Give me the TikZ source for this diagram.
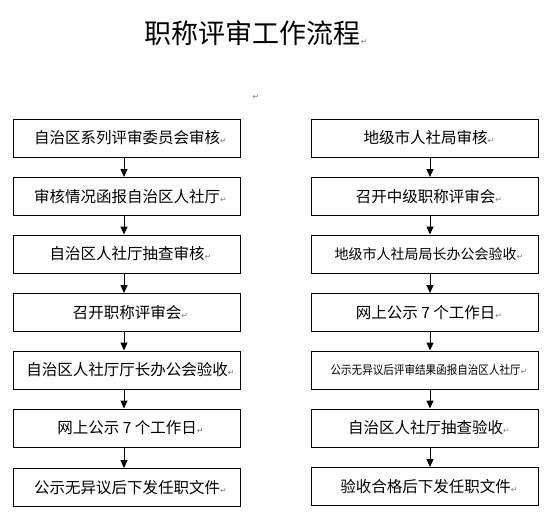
\documentclass[tikz,border=0pt]{standalone}
\usepackage{fontspec}
\usepackage{graphicx}
\newfontfamily\cjk{Noto Sans CJK SC}
\newfontfamily\djv{DejaVu Sans}
\usetikzlibrary{arrows.meta}
\newcommand{\pmark}{{\djv\fontsize{8}{8}\selectfont\textcolor{gray}{↵}}}
\tikzset{
  stepbox/.style={draw, line width=1pt, minimum width=227pt, minimum height=38pt,
    inner sep=0pt, font=\cjk\fontsize{15.5}{16}\selectfont},
  arr/.style={line width=1pt, -{Triangle[width=7pt,length=8pt]}},
}
\newcommand{\bx}[1]{\hspace*{8pt}\raisebox{-1.5pt}{#1\pmark}}
\begin{document}
\begin{tikzpicture}[x=1pt,y=1pt]
\useasboundingbox (0,0) rectangle (554,-527);
\fill[white] (0,0) rectangle (554,-527);
% title
\node[font=\cjk\fontsize{27}{28}\selectfont, inner sep=0pt] (title) at (252.5,-33.5) {职称评审工作流程};
\node[inner sep=0pt, anchor=south west] (tmark) at ([yshift=2pt]title.south east) {\pmark};
\node[inner sep=0pt] (lone) at (256,-97) {\pmark};
% left column
\node[stepbox] (L1) at (126.5,-138) {\bx{自治区系列评审委员会审核}};
\node[stepbox] (L2) at (126.5,-196.5) {\bx{审核情况函报自治区人社厅}};
\node[stepbox] (L3) at (126.5,-254) {\bx{自治区人社厅抽查审核}};
\node[stepbox] (L4) at (126.5,-312.5) {\bx{召开职称评审会}};
\node[stepbox] (L5) at (126.5,-370) {\bx{自治区人社厅厅长办公会验收}};
\node[stepbox] (L6) at (126.5,-428) {\bx{网上公示 7 个工作日}};
\node[stepbox] (L7) at (126.5,-487.5) {\bx{公示无异议后下发任职文件}};
% right column
\node[stepbox] (R1) at (425,-138) {\bx{地级市人社局审核}};
\node[stepbox] (R2) at (425,-196.5) {\bx{召开中级职称评审会}};
\node[stepbox, font=\cjk\fontsize{14}{15}\selectfont] (R3) at (425,-254) {\bx{地级市人社局局长办公会验收}};
\node[stepbox] (R4) at (425,-312.5) {\bx{网上公示 7 个工作日}};
\node[stepbox] (R5) at (425,-370) {\bx{\scalebox{0.88}[1]{\fontsize{12}{13}\selectfont 公示无异议后评审结果函报自治区人社厅}}};
\node[stepbox] (R6) at (425,-428) {\bx{自治区人社厅抽查验收}};
\node[stepbox] (R7) at (425,-486.5) {\bx{验收合格后下发任职文件}};
% arrows
\foreach \a/\b in {L1/L2,L2/L3,L3/L4,L4/L5,L5/L6,L6/L7}
  \draw[arr] ([xshift=-2.5pt]\a.south) -- ([xshift=-2.5pt]\b.north);
\foreach \a/\b in {R1/R2,R2/R3,R3/R4,R4/R5,R5/R6,R6/R7}
  \draw[arr] ([xshift=5pt]\a.south) -- ([xshift=5pt]\b.north);
\end{tikzpicture}
\end{document}
